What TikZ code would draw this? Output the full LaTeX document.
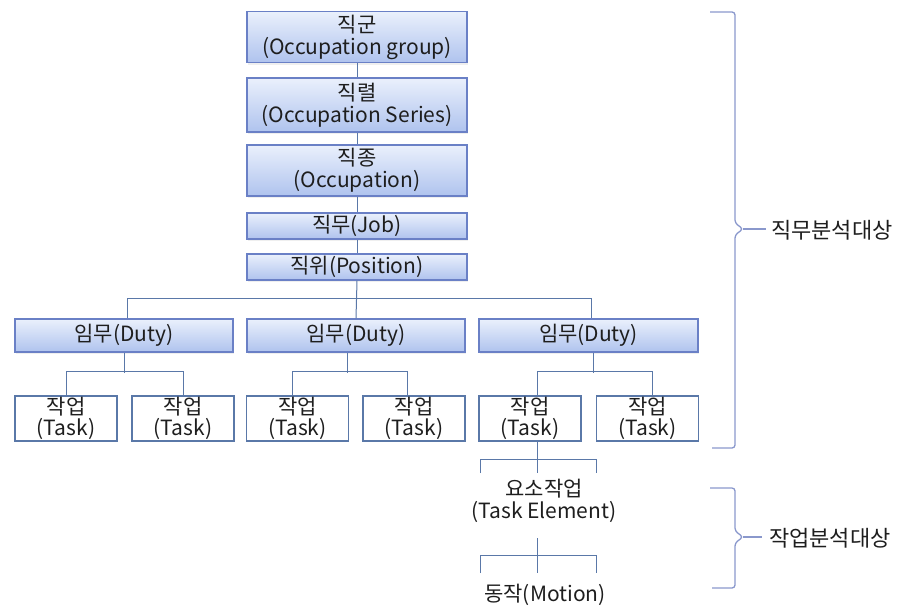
\documentclass[tikz,border=0pt]{standalone}
\usepackage{fontspec}
\setmainfont{Noto Sans CJK KR}
\usetikzlibrary{shadows}
\definecolor{bxborder}{HTML}{6A80C6}
\definecolor{bxtop}{HTML}{EAF0FC}
\definecolor{bxbot}{HTML}{AFC3EE}
\definecolor{lnc}{HTML}{5A78A8}
\definecolor{brc}{HTML}{8A98CC}
\definecolor{txc}{HTML}{1E1E1E}
\tikzset{
  bluebox/.style={draw=bxborder, line width=1.2pt, top color=bxtop, bottom color=bxbot,
    drop shadow={shadow xshift=1pt, shadow yshift=-2pt, fill=black!12},
    align=center, inner sep=0pt, text=txc, font=\fontsize{21}{22}\selectfont},
  taskbox/.style={draw=lnc, line width=1.1pt, fill=white, minimum width=102pt, minimum height=45pt,
    align=center, inner sep=0pt, text=txc, font=\fontsize{21}{21}\selectfont},
  plain/.style={align=center, inner sep=0pt, text=txc, font=\fontsize{21}{22}\selectfont},
  conn/.style={draw=lnc, line width=1pt},
  bracecl/.style={draw=brc, line width=1.3pt, rounded corners=3pt},
}
\begin{document}
\begin{tikzpicture}[x=1pt, y=-1pt]
\useasboundingbox (0,0) rectangle (912,610);
% top column
\node[bluebox, minimum width=220pt, minimum height=51pt] (g1) at (357,37) {직군\\(Occupation group)};
\node[bluebox, minimum width=220pt, minimum height=54pt] (g2) at (357,105) {직렬\\(Occupation Series)};
\node[bluebox, minimum width=220pt, minimum height=51pt] (g3) at (357,170.5) {직종\\(Occupation)};
\node[bluebox, minimum width=220pt, minimum height=26pt] (job) at (357,226) {직무(Job)};
\node[bluebox, minimum width=220pt, minimum height=26pt] (pos) at (357,267) {직위(Position)};
% duties
\node[bluebox, minimum width=218pt, minimum height=33pt] (d1) at (124,335.5) {임무(Duty)};
\node[bluebox, minimum width=218pt, minimum height=33pt] (d2) at (356,335.5) {임무(Duty)};
\node[bluebox, minimum width=219pt, minimum height=33pt] (d3) at (588.5,335.5) {임무(Duty)};
% tasks
\node[taskbox] (t1) at (66,418.5) {작업\\(Task)};
\node[taskbox] (t2) at (183,418.5) {작업\\(Task)};
\node[taskbox] (t3) at (297.5,418.5) {작업\\(Task)};
\node[taskbox] (t4) at (414,418.5) {작업\\(Task)};
\node[taskbox] (t5) at (530,418.5) {작업\\(Task)};
\node[taskbox] (t6) at (647.5,418.5) {작업\\(Task)};
% lower items
\node[plain] (el) at (544,501) {요소작업\\(Task Element)};
\node[plain] (mo) at (545,595) {동작(Motion)};
% connectors in the column
\draw[conn] (g1.south) -- (g2.north);
\draw[conn] (g2.south) -- (g3.north);
\draw[conn] (g3.south) -- (job.north);
\draw[conn] (job.south) -- (pos.north);
\draw[conn] (pos.south) -- (d2.north);
\draw[conn] ([xshift=3pt]d1.north) -- ++(0,-20) -| ([xshift=2.5pt]d3.north);
% duty to tasks
\draw[conn] (d1.south) -- ++(0,20);
\draw[conn] (t1.north) -- ++(0,-24) -| (t2.north);
\draw[conn] ([xshift=-9pt]d2.south) -- ++(0,20);
\draw[conn] ([xshift=-5pt]t3.north) -- ++(0,-24) -| ([xshift=-7pt]t4.north);
\draw[conn] ([xshift=5pt]d3.south) -- ++(0,20);
\draw[conn] ([xshift=7pt]t5.north) -- ++(0,-24) -| ([xshift=5pt]t6.north);
% task to element
\coordinate (b1l) at (480,473);
\coordinate (b1r) at (596,473);
\coordinate (v1) at (537,473);
\draw[conn] ([xshift=7pt]t5.south) -- (v1);
\draw[conn] (b1l) -- ++(0,-14) -- ++(116,0) -- (b1r);
\coordinate (b2l) at (480,573);
\coordinate (b2r) at (596,573);
\coordinate (v2t) at (537,538);
\coordinate (v2b) at (537,573);
\draw[conn] (v2t) -- (v2b);
\draw[conn] (b2l) -- ++(0,-18) -- ++(116,0) -- (b2r);
% braces
\coordinate (br1a) at (710,12);
\coordinate (br1b) at (712,448);
\coordinate (br1t) at (766,229);
\draw[bracecl] (br1a) -- (735,12) -- (735,223) -- (743,229) -- (735,235) -- (735,448) -- (br1b);
\draw[draw=brc, line width=1.3pt] (743,229) -- (br1t);
\node[plain, anchor=west, font=\fontsize{22}{22}\selectfont] (lb1) at (771,230) {직무분석대상};
\coordinate (br2a) at (710,488);
\coordinate (br2b) at (712,588);
\coordinate (br2t) at (762,537);
\draw[bracecl] (br2a) -- (735,488) -- (735,531) -- (743,537) -- (735,543) -- (735,588) -- (br2b);
\draw[draw=brc, line width=1.3pt] (743,537) -- (br2t);
\node[plain, anchor=west, font=\fontsize{22}{22}\selectfont] (lb2) at (769,538) {작업분석대상};
\end{tikzpicture}
\end{document}
